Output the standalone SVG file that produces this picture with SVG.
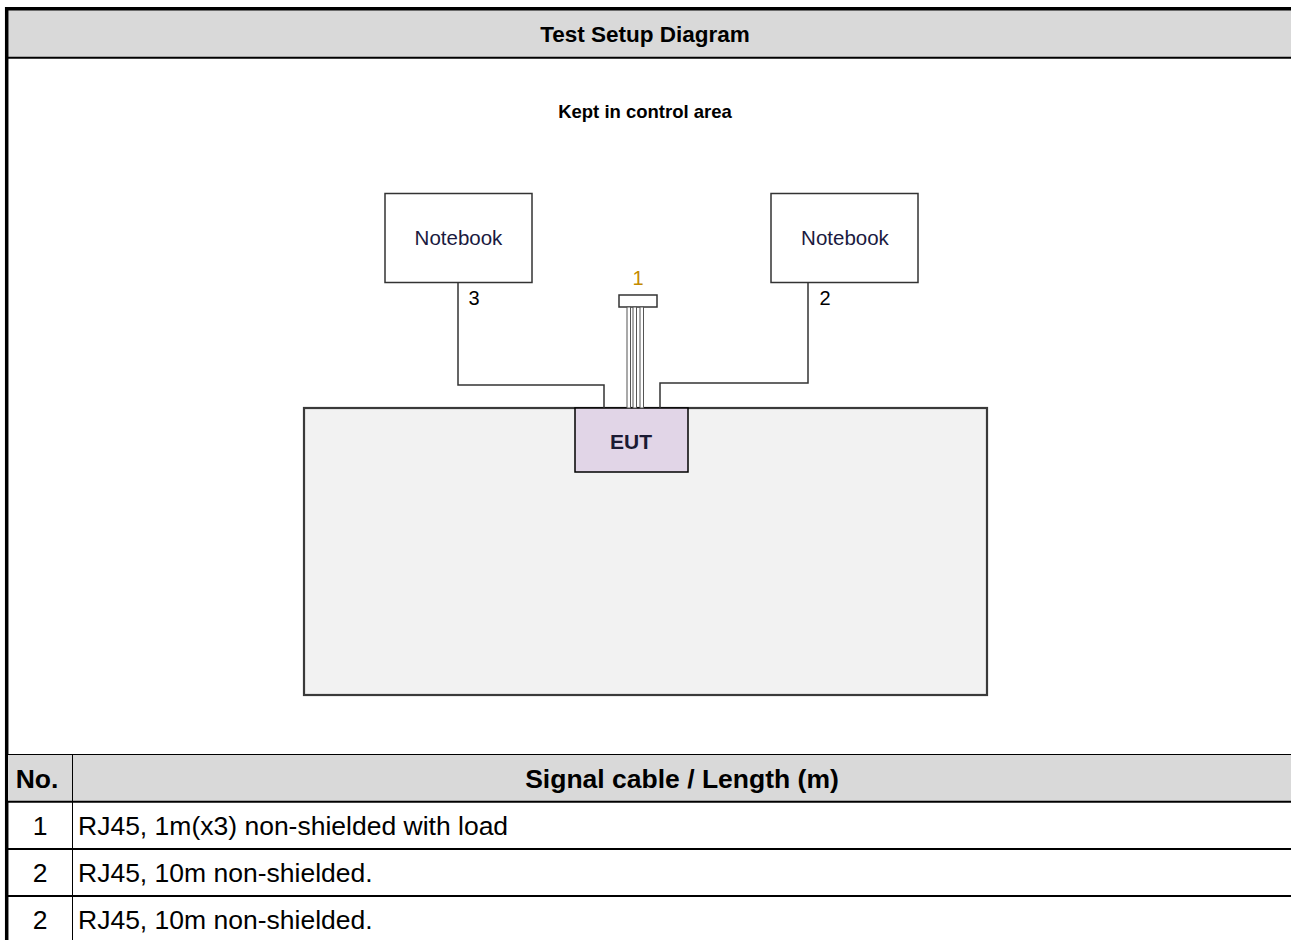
<svg xmlns="http://www.w3.org/2000/svg" width="1291" height="940" viewBox="0 0 1291 940">
<style>
.t{font-family:"Liberation Sans",Arial,sans-serif}
.b{font-weight:bold}
.box{fill:#fff;stroke:#333;stroke-width:1.5}
.wire{fill:none;stroke:#333;stroke-width:1.5}
.rule{stroke:#000}
.cab{fill:#fff;stroke:#555;stroke-width:1}
</style>
<rect x="0" y="0" width="1291" height="940" fill="#fff"/>
<g id="frame">
<rect x="6" y="8.5" width="1285" height="49" fill="#d9d9d9"/>
<line class="rule" x1="5" y1="8.7" x2="1291" y2="8.7" stroke-width="3.5"/>
<line class="rule" x1="6.7" y1="7" x2="6.7" y2="940" stroke-width="3.5"/>
<line class="rule" x1="8" y1="57.7" x2="1291" y2="57.7" stroke-width="2"/>
<text class="t b" x="645" y="42" font-size="22.5" text-anchor="middle" fill="#000">Test Setup Diagram</text>
<text class="t b" x="645" y="118" font-size="18.5" text-anchor="middle" fill="#000">Kept in control area</text>
</g>
<g id="table">
<rect x="8" y="754.5" width="1283" height="46.5" fill="#d9d9d9"/>
<line class="rule" x1="8" y1="754.5" x2="1291" y2="754.5" stroke-width="1"/>
<line class="rule" x1="8" y1="801.7" x2="1291" y2="801.7" stroke-width="2"/>
<line class="rule" x1="8" y1="849" x2="1291" y2="849" stroke-width="2"/>
<line class="rule" x1="8" y1="896" x2="1291" y2="896" stroke-width="2"/>
<line class="rule" x1="72.5" y1="754" x2="72.5" y2="940" stroke-width="1"/>
<text class="t b" x="37" y="788" font-size="26.5" text-anchor="middle" fill="#000">No.</text>
<text class="t b" x="682" y="788" font-size="26.5" text-anchor="middle" fill="#000">Signal cable / Length (m)</text>
<text class="t" x="40" y="835" font-size="26.5" text-anchor="middle" fill="#000">1</text>
<text class="t" x="78" y="835" font-size="26.5" fill="#000">RJ45, 1m(x3) non-shielded with load</text>
<text class="t" x="40" y="882" font-size="26.5" text-anchor="middle" fill="#000">2</text>
<text class="t" x="78" y="882" font-size="26.5" fill="#000">RJ45, 10m non-shielded.</text>
<text class="t" x="40" y="929" font-size="26.5" text-anchor="middle" fill="#000">2</text>
<text class="t" x="78" y="929" font-size="26.5" fill="#000">RJ45, 10m non-shielded.</text>
</g>
<g id="table-area">
<rect x="304" y="408" width="683" height="287" fill="#f2f2f2" stroke="#3a3a3a" stroke-width="2.2"/>
</g>
<g id="eut">
<rect x="575" y="408" width="113" height="64" fill="#e1d5e7" stroke="#000" stroke-width="1.5"/>
<text class="t b" x="631" y="449" font-size="21" text-anchor="middle" fill="#1a1a33">EUT</text>
</g>
<g id="notebook-left">
<rect class="box" x="385" y="193.5" width="147" height="89"/>
<text class="t" x="458.5" y="245" font-size="20.5" text-anchor="middle" fill="#1a1a40">Notebook</text>
</g>
<g id="notebook-right">
<rect class="box" x="771" y="193.5" width="147" height="89"/>
<text class="t" x="845" y="245" font-size="20.5" text-anchor="middle" fill="#1a1a40">Notebook</text>
</g>
<g id="load">
<rect class="box" x="619" y="295" width="38" height="12"/>
</g>
<g id="connectors">
<polyline class="wire" points="458,282.5 458,385 604,385 604,408"/>
<polyline class="wire" points="808,282.5 808,383 660,383 660,408"/>
<rect class="cab" x="627" y="307" width="3.5" height="101"/>
<rect class="cab" x="633" y="307" width="3.5" height="101"/>
<rect class="cab" x="640" y="307" width="3.5" height="101"/>
<text class="t" x="474" y="305" font-size="20" text-anchor="middle" fill="#000">3</text>
<text class="t" x="825" y="305" font-size="20" text-anchor="middle" fill="#000">2</text>
<text class="t" x="638" y="285" font-size="20" text-anchor="middle" fill="#c48a00">1</text>
</g>
</svg>
